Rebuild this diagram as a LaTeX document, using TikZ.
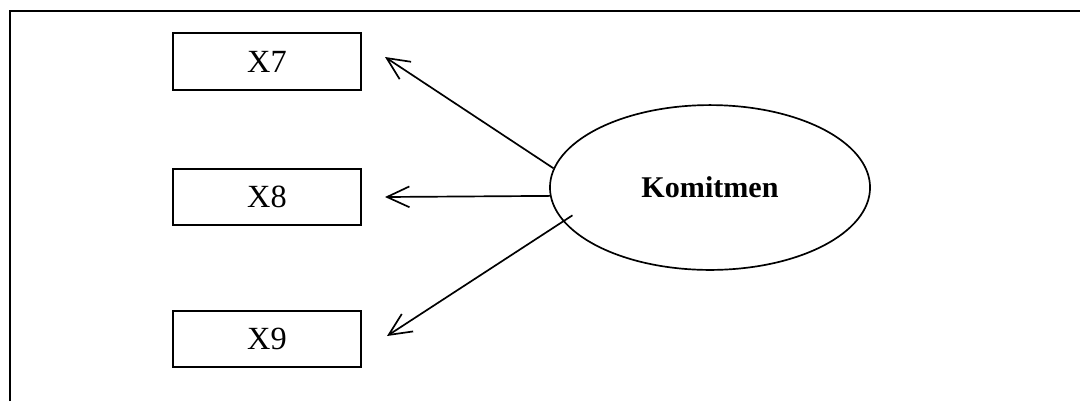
\documentclass[tikz,border=0pt]{standalone}
\usepackage{fontspec}
\setmainfont{Liberation Serif}
\usetikzlibrary{arrows.meta,shapes.geometric}
\begin{document}
\begin{tikzpicture}[x=0.0125cm, y=-0.0125cm,
		ind/.style={draw, line width=0.7pt, minimum width=2.35cm, minimum height=0.71cm, inner sep=0pt, font=\fontsize{11.5}{12}\selectfont},
		arr/.style={-{Straight Barb[length=2.8mm,width=2.6mm]}, line width=0.6pt}]
		\useasboundingbox (0, 0) rectangle (1080, 401);
		\draw[line width=0.85pt] (10, 401) -- (10, 11) -- (1080, 11);

		\node[ind] (X7) at (267, 61.5) {X7};
		\node[ind] (X8) at (267, 197) {X8};
		\node[ind] (X9) at (267, 339) {X9};
		\node[draw, ellipse, line width=0.6pt, minimum width=4cm, minimum height=2.06cm, inner sep=0pt, font=\fontsize{10.7}{12}\selectfont\bfseries] (K) at (710, 187.5) {Komitmen};

		\coordinate (t7) at (385, 57);
		\coordinate (t8) at (385, 197);
		\coordinate (t9) at (387, 336);

		\draw[arr] (K.173) -- (t7);
		\draw[arr] (K.183.5) -- (t8);
		\draw[arr, shorten <=-1.4mm] (K.193) -- (t9);
	\end{tikzpicture}
\end{document}
